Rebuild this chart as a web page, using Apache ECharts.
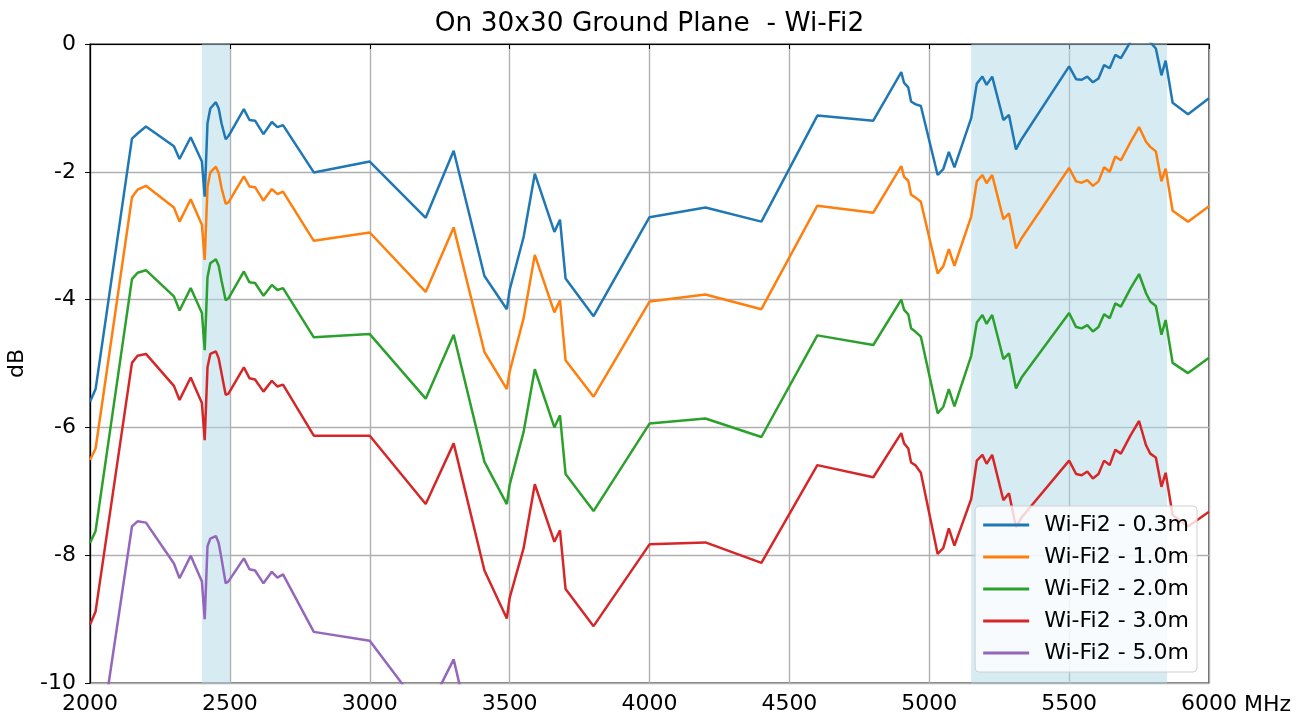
<!DOCTYPE html>
<html>
<head>
<meta charset="utf-8">
<script src="https://cdn.jsdelivr.net/npm/echarts@6/dist/echarts.min.js"></script>
<style>html,body{margin:0;padding:0;background:#fff;}#chart{width:1305px;height:720px;}</style>
</head>
<body>
<div id="chart"></div>
<script>
const title = 'On 30x30 Ground Plane  - Wi-Fi2';
const xUnit = 'MHz';
const yName = 'dB';
const seriesNames = ['Wi-Fi2 - 0.3m', 'Wi-Fi2 - 1.0m', 'Wi-Fi2 - 2.0m', 'Wi-Fi2 - 3.0m', 'Wi-Fi2 - 5.0m'];
const bands = [[2400, 2500], [5150, 5850]];
const freq = [2000,2020,2150,2170,2200,2300,2320,2360,2400,2410,2420,2430,2450,2460,2470,2485,2495,2500,2550,2570,2590,2620,2650,2670,2690,2800,3000,3200,3300,3410,3490,3500,3550,3590,3660,3680,3700,3800,4000,4200,4400,4600,4800,4900,4910,4925,4935,4950,4970,5030,5050,5070,5090,5150,5170,5190,5205,5225,5265,5285,5310,5330,5500,5525,5545,5565,5585,5605,5625,5645,5665,5685,5720,5750,5775,5790,5810,5830,5845,5870,5925,6000];
const d03 = [-5.60,-5.40,-1.48,-1.40,-1.29,-1.60,-1.80,-1.46,-1.84,-2.39,
  -1.24,-1.01,-0.91,-1.01,-1.24,-1.49,-1.44,-1.46,-1.02,-1.19,
  -1.20,-1.41,-1.22,-1.30,-1.27,-2.01,-1.84,-2.72,-1.67,-3.63,
  -4.15,-3.85,-3.02,-2.03,-2.94,-2.75,-3.67,-4.26,-2.71,-2.56,
  -2.78,-1.12,-1.20,-0.44,-0.61,-0.68,-0.90,-0.94,-0.97,-2.05,
  -1.96,-1.69,-1.93,-1.16,-0.62,-0.51,-0.64,-0.51,-1.19,-1.11,
  -1.65,-1.49,-0.35,-0.55,-0.56,-0.51,-0.60,-0.54,-0.33,-0.38,
  -0.17,-0.22,0.04,0.27,0.10,0.03,-0.07,-0.49,-0.26,-0.92,
  -1.10,-0.85];
const d10 = [-6.51,-6.33,-2.40,-2.28,-2.22,-2.56,-2.78,-2.43,-2.83,-3.38,
  -2.24,-2.01,-1.92,-2.02,-2.25,-2.50,-2.48,-2.50,-2.07,-2.23,
  -2.24,-2.45,-2.27,-2.35,-2.31,-3.08,-2.95,-3.88,-2.87,-4.82,
  -5.40,-5.13,-4.29,-3.30,-4.20,-4.01,-4.95,-5.52,-4.03,-3.92,
  -4.15,-2.53,-2.64,-1.91,-2.08,-2.14,-2.36,-2.40,-2.47,-3.59,
  -3.48,-3.21,-3.47,-2.70,-2.15,-2.05,-2.18,-2.05,-2.74,-2.65,
  -3.20,-3.04,-1.94,-2.15,-2.17,-2.13,-2.22,-2.15,-1.93,-2.00,
  -1.76,-1.82,-1.53,-1.30,-1.53,-1.61,-1.68,-2.15,-1.95,-2.61,
  -2.78,-2.54];
const d20 = [-7.81,-7.62,-3.68,-3.58,-3.54,-3.95,-4.17,-3.82,-4.21,-4.79,
  -3.65,-3.43,-3.37,-3.47,-3.70,-4.01,-3.98,-3.99,-3.56,-3.73,
  -3.74,-3.94,-3.77,-3.85,-3.82,-4.59,-4.54,-5.55,-4.55,-6.54,
  -7.20,-6.90,-6.07,-5.09,-6.00,-5.81,-6.73,-7.31,-5.94,-5.86,
  -6.15,-4.56,-4.71,-4.00,-4.16,-4.23,-4.45,-4.50,-4.58,-5.78,
  -5.68,-5.40,-5.67,-4.88,-4.36,-4.24,-4.38,-4.24,-4.93,-4.84,
  -5.39,-5.22,-4.21,-4.43,-4.45,-4.40,-4.50,-4.43,-4.23,-4.29,
  -4.06,-4.11,-3.82,-3.60,-3.90,-4.03,-4.10,-4.55,-4.32,-4.99,
  -5.15,-4.91];
const d30 = [-9.09,-8.88,-4.99,-4.88,-4.85,-5.35,-5.57,-5.22,-5.62,-6.20,
  -5.06,-4.85,-4.81,-4.92,-5.15,-5.49,-5.47,-5.49,-5.06,-5.23,
  -5.25,-5.44,-5.27,-5.36,-5.33,-6.13,-6.13,-7.20,-6.25,-8.24,
  -8.99,-8.67,-7.89,-6.89,-7.79,-7.61,-8.53,-9.11,-7.83,-7.80,
  -8.12,-6.59,-6.78,-6.09,-6.25,-6.33,-6.55,-6.59,-6.71,-7.98,
  -7.89,-7.58,-7.85,-7.12,-6.52,-6.43,-6.57,-6.43,-7.14,-7.03,
  -7.56,-7.41,-6.52,-6.73,-6.75,-6.69,-6.80,-6.73,-6.52,-6.59,
  -6.35,-6.41,-6.12,-5.90,-6.28,-6.41,-6.47,-6.93,-6.71,-7.37,
  -7.55,-7.32];
const d50 = [-11.55,-11.38,-7.55,-7.47,-7.49,-8.13,-8.36,-8.01,-8.41,-9.00,
  -7.86,-7.74,-7.70,-7.81,-8.05,-8.44,-8.41,-8.44,-8.05,-8.22,
  -8.24,-8.44,-8.26,-8.35,-8.30,-9.20,-9.34,-10.50,-9.63,-11.70,
  -12.20,-11.90,-11.10,-10.20,-11.20,-11.00,-12.00,-12.60,-11.40,-11.50,
  -12.10,-10.70,-11.00,-10.30,-10.50,-10.60,-10.80,-10.90,-10.90,-12.20,
  -12.10,-12.00,-12.20,-11.50,-11.00,-10.90,-11.10,-11.00,-11.70,-11.60,
  -12.20,-12.00,-11.00,-11.20,-11.20,-11.20,-11.30,-11.20,-11.00,-11.10,
  -10.90,-11.00,-10.80,-10.60,-10.90,-11.00,-11.10,-11.50,-11.30,-12.00,
  -12.30,-12.40];
const seriesData = [d03, d10, d20, d30, d50];
const colors = ['#1f77b4', '#ff7f0e', '#2ca02c', '#d62728', '#9467bd'];
const FONT = 'DejaVu Sans';
const FS = 22;

const chart = echarts.init(document.getElementById('chart'), null, {renderer: 'canvas'});
const series = seriesNames.map((name, i) => {
  const s = {
    name: name,
    type: 'line',
    data: freq.map((f, k) => [f, seriesData[i][k]]),
    showSymbol: false,
    symbol: 'none',
    clip: true,
    lineStyle: {color: colors[i], width: 2.5},
    itemStyle: {color: colors[i]},
    z: 3
  };
  if (i === 0) {
    s.markArea = {
      silent: true,
      itemStyle: {color: 'rgba(173,216,230,0.5)'},
      data: bands.map(b => [{xAxis: b[0]}, {xAxis: b[1]}])
    };
  }
  return s;
});

chart.setOption({
  animation: false,
  backgroundColor: '#fff',
  textStyle: {fontFamily: FONT},
  title: {
    text: title,
    left: 644.5,
    textAlign: 'center',
    top: 6,
    textStyle: {fontFamily: FONT, fontSize: 26.4, fontWeight: 'normal', color: '#000'}
  },
  grid: {left: 90, right: 96, top: 44, bottom: 37, containLabel: false, outerBoundsMode: 'none',
    show: true, borderColor: '#000', borderWidth: 1.2, backgroundColor: 'transparent'},
  legend: {
    data: seriesNames,
    orient: 'vertical',
    right: 108,
    bottom: 48,
    icon: 'rect',
    itemWidth: 46,
    itemHeight: 3,
    itemGap: 10,
    padding: [8, 8, 8, 8],
    backgroundColor: 'rgba(255,255,255,0.8)',
    borderColor: '#d0d0d0',
    borderWidth: 1,
    borderRadius: 4,
    textStyle: {fontFamily: FONT, fontSize: FS, color: '#000', lineHeight: 22, padding: [0, 0, 0, 10]}
  },
  graphic: [{
    type: 'text',
    left: 1244,
    top: 694,
    silent: true,
    style: {text: xUnit, fontFamily: FONT, fontSize: FS, fill: '#000'}
  }],
  xAxis: {
    type: 'value',
    min: 2000,
    max: 6000,
    interval: 500,
    axisLine: {show: true, lineStyle: {color: '#000', width: 1.2}},
    axisTick: {show: true, length: 5, lineStyle: {color: '#000'}},
    axisLabel: {fontFamily: FONT, fontSize: FS, color: '#000', margin: 10, formatter: v => String(v)},
    splitLine: {show: true, lineStyle: {color: '#b0b0b0', width: 1.4}}
  },
  yAxis: {
    type: 'value',
    min: -10,
    max: 0,
    interval: 2,
    name: yName,
    nameLocation: 'middle',
    nameGap: 62,
    nameRotate: 90,
    nameTextStyle: {fontFamily: FONT, fontSize: FS, color: '#000'},
    axisLine: {show: true, lineStyle: {color: '#000', width: 1.2}},
    axisTick: {show: true, length: 5, lineStyle: {color: '#000'}},
    axisLabel: {fontFamily: FONT, fontSize: FS, color: '#000', margin: 14, formatter: v => String(v)},
    splitLine: {show: true, lineStyle: {color: '#b0b0b0', width: 1.4}}
  },
  series: series
});
</script>
</body>
</html>
